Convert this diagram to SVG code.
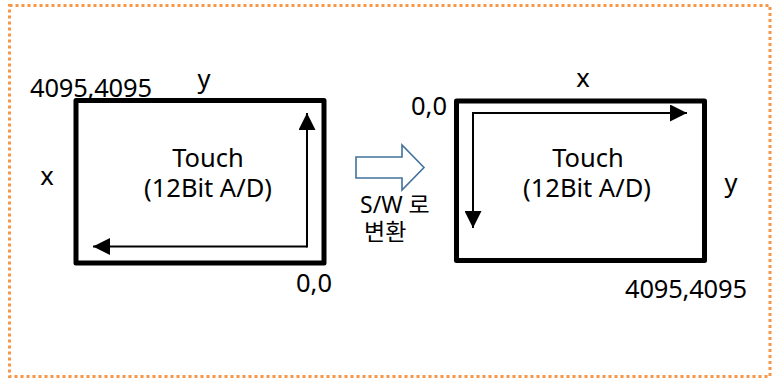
<svg xmlns="http://www.w3.org/2000/svg" width="780" height="379" viewBox="0 0 780 379">
<defs>
<style>
.t{font-family:"Noto Sans","Noto Sans CJK KR",sans-serif;font-size:25.5px;fill:#000}
.s{font-family:"Noto Sans","Noto Sans CJK KR",sans-serif;font-size:23px;fill:#000}
.box{fill:#fff;stroke:#000;stroke-width:5;stroke-linejoin:round}
.ax{fill:none;stroke:#000;stroke-width:2}
</style>
<marker id="ah" viewBox="0 0 10 10" refX="10" refY="5" markerWidth="17" markerHeight="17" markerUnits="userSpaceOnUse" orient="auto">
<path d="M0,0 L10,5 L0,10 Z" fill="#000"/>
</marker>
</defs>
<rect x="9.5" y="5.5" width="760.5" height="371" fill="#fff" stroke="#F79646" stroke-width="3" stroke-dasharray="3 3"/>
<g id="left-panel">
<rect class="box" x="76" y="100.5" width="248" height="162.5"/>
<text class="t" text-anchor="middle"><tspan x="208" y="167">Touch</tspan><tspan x="208" y="197">(12Bit A/D)</tspan></text>
<text class="t" x="30" y="97" textLength="122">4095,4095</text>
<text class="t" x="204" y="88" text-anchor="middle">y</text>
<text class="t" x="47" y="185" text-anchor="middle">x</text>
<text class="t" x="314" y="292" text-anchor="middle">0,0</text>
</g>
<g id="right-panel">
<rect class="box" x="456.5" y="101" width="248" height="159.5"/>
<text class="t" text-anchor="middle"><tspan x="588" y="167">Touch</tspan><tspan x="587" y="197">(12Bit A/D)</tspan></text>
<text class="t" x="583" y="87" text-anchor="middle">x</text>
<text class="t" x="429" y="115" text-anchor="middle">0,0</text>
<text class="t" x="731" y="192" text-anchor="middle">y</text>
<text class="t" x="625" y="298" textLength="122">4095,4095</text>
</g>
<g id="convert">
<path d="M356,157 H402 V145 L424,167.5 L402,190 V178 H356 Z" fill="#fff" stroke="#41719C" stroke-width="1.6" stroke-linejoin="miter"/>
<text class="s"><tspan x="360" y="213">S/W 로</tspan><tspan x="364" y="240">변환</tspan></text>
</g>
<g id="connectors">
<line class="ax" x1="307" y1="246.5" x2="93" y2="246.5" marker-end="url(#ah)"/>
<line class="ax" x1="307" y1="247.5" x2="307" y2="113" marker-end="url(#ah)"/>
<line class="ax" x1="473" y1="113" x2="473" y2="228" marker-end="url(#ah)"/>
<line class="ax" x1="472" y1="113" x2="687" y2="113" marker-end="url(#ah)"/>
</g>
</svg>
